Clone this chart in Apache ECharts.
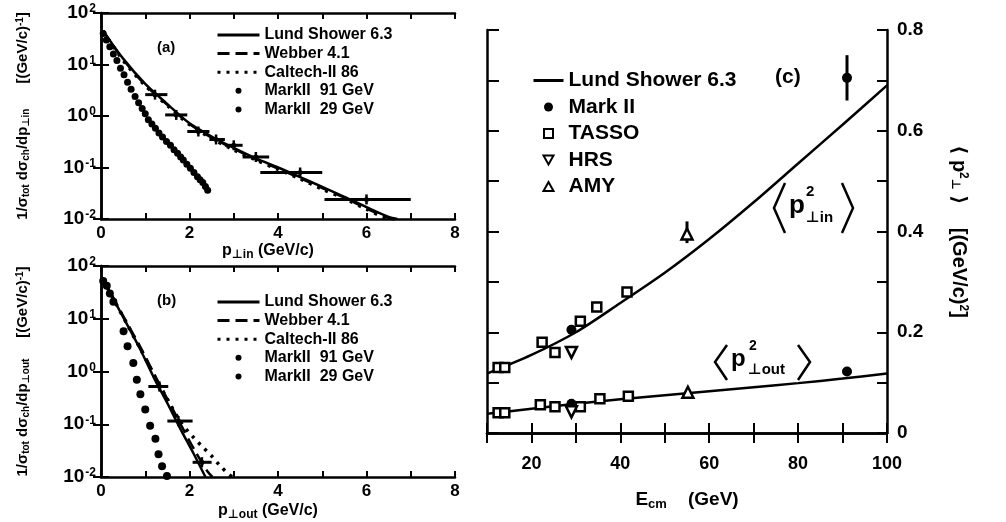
<!DOCTYPE html>
<html><head><meta charset="utf-8">
<script src="https://cdn.jsdelivr.net/npm/echarts@6/dist/echarts.min.js"></script>
<style>html,body{margin:0;padding:0;background:#fff}#c{width:1006px;height:522px}</style>
</head><body><div id="c"></div>
<script>
// ---------- Panel (a): p_perp,in spectra ----------
const aLundX    = [0.05,0.5,1.0,1.5,2.0,2.5,3.0,3.5,4.0,4.5,5.0,5.5,6.0,6.5,6.7];
const aLund     = [45,13,4.2,1.7,0.72,0.40,0.24,0.15,0.10,0.065,0.042,0.027,0.017,0.011,0.010];
const aWebber   = [45,12.5,4.0,1.65,0.70,0.38,0.23,0.145,0.095,0.062,0.040,0.026,0.016,0.0105,0.010];
const aCaltech  = [44,12,3.9,1.6,0.68,0.37,0.22,0.14,0.092,0.060,0.038,0.025,0.0155,0.0102,0.010];
const aM91X     = [1.22,1.7,2.2,2.6,3.0,3.5,4.5,6.0];
const aM91Y     = [2.6,1.05,0.5,0.35,0.27,0.16,0.08,0.024];
const aM91Xlo   = [1.0,1.45,1.95,2.45,2.8,3.2,3.6,5.05];
const aM91Xhi   = [1.5,1.95,2.45,2.8,3.2,3.8,5.0,7.0];
const aM29X     = [0.05,0.12,0.2,0.28,0.36,0.44,0.52,0.6,0.68,0.77,0.85,0.93,1.0,1.07,1.15,1.23,1.31,1.39,1.48,1.57,1.65,1.73,1.8,1.86,1.94,2.02,2.1,2.18,2.24,2.3,2.36,2.41];
const aM29Y     = [40,30,22,16,12,8.5,6.3,4.5,3.3,2.4,1.8,1.4,1.1,0.85,0.7,0.58,0.47,0.39,0.32,0.27,0.22,0.19,0.16,0.14,0.115,0.097,0.08,0.066,0.058,0.051,0.043,0.036];

// ---------- Panel (b): p_perp,out spectra ----------
const bLundX    = [0.05,0.3,0.6,0.9,1.2,1.5,1.8,2.1,2.36];
const bLund     = [55,22,7.5,2.5,0.75,0.25,0.08,0.027,0.010];
const bWebberX  = [0.05,0.3,0.6,0.9,1.2,1.5,1.8,2.1,2.4,2.52];
const bWebber   = [55,23,8,2.8,0.9,0.3,0.1,0.034,0.013,0.010];
const bCaltechX = [0.05,0.3,0.6,0.9,1.2,1.5,1.8,2.1,2.3,2.5,2.7,2.9,2.98];
const bCaltech  = [55,22,7.6,2.6,0.85,0.3,0.11,0.055,0.037,0.025,0.016,0.011,0.010];
const bM91X     = [1.32,1.75,2.28];
const bM91Y     = [0.52,0.115,0.019];
const bM91Xlo   = [1.07,1.5,2.07];
const bM91Xhi   = [1.52,2.07,2.5];
const bM29X     = [0.05,0.13,0.2,0.28,0.51,0.6,0.73,0.81,0.89,1.0,1.11,1.23,1.30,1.38,1.49];
const bM29Y     = [52,42,30,21,5.8,3.0,1.45,0.7,0.37,0.19,0.094,0.053,0.027,0.016,0.0105];

// ---------- Panel (c): <p_perp^2> vs E_cm ----------
const cE        = [10,20,30,40,50,60,70,80,90,100];
const cLundIn   = [0.118,0.155,0.200,0.258,0.318,0.385,0.458,0.535,0.612,0.690];
const cLundOut  = [0.038,0.048,0.058,0.067,0.075,0.083,0.091,0.099,0.108,0.118];
const markIIE   = [29,29,91,91];
const markIIV   = [0.205,0.058,0.705,0.122];
const markIIErr = [[91,0.705,0.66,0.75]];
const tassoE    = [12.5,14,22.4,25.3,31,34.7,41.5,12.5,14,22,25.3,31,35.4,41.8];
const tassoV    = [0.13,0.13,0.18,0.16,0.222,0.25,0.28,0.04,0.04,0.056,0.052,0.052,0.068,0.073];
const hrsE      = [29,29];
const hrsV      = [0.16,0.042];
const amyE      = [55,55.2];
const amyV      = [0.395,0.081];
const amyErr    = [[55,0.395,0.377,0.42]];

const FONT = 'Liberation Sans, DejaVu Sans, sans-serif';
const zip = (xs, ys) => xs.map((x, i) => [x, ys[i]]);
const chart = echarts.init(document.getElementById('c'));

function hErrRender(params, api) {
  const x = api.value(0), y = api.value(1), xl = api.value(2), xh = api.value(3);
  const pl = api.coord([xl, y]), ph = api.coord([xh, y]);
  const pb = api.coord([x, y * 0.8]), pt = api.coord([x, y * 1.25]);
  return {type: 'group', children: [
    {type: 'line', shape: {x1: pl[0], y1: pl[1], x2: ph[0], y2: ph[1]}, style: {stroke: '#000', lineWidth: 3}},
    {type: 'line', shape: {x1: pb[0], y1: pb[1], x2: pt[0], y2: pt[1]}, style: {stroke: '#000', lineWidth: 2.5}}
  ]};
}
function vErrRender(params, api) {
  const x = api.value(0), yl = api.value(2), yh = api.value(3);
  const pb = api.coord([x, yl]), pt = api.coord([x, yh]);
  return {type: 'line', shape: {x1: pb[0], y1: pb[1], x2: pt[0], y2: pt[1]}, style: {stroke: '#000', lineWidth: 3}};
}

const lineW = 2.5;
const axLine = {lineStyle: {color: '#000', width: 2.5}};
const tick = (len) => ({inside: true, length: len, lineStyle: {color: '#000', width: 2}});
const logRich = {
  b: {fontSize: 19, fontWeight: 'bold', fontFamily: FONT, color: '#000', lineHeight: 20},
  s: {fontSize: 12, fontWeight: 'bold', fontFamily: FONT, color: '#000', verticalAlign: 'top', lineHeight: 20, padding: [0, 0, 8, 1]}
};
function logFmt(v) { const e = Math.round(Math.log10(v)); return '{b|10}{s|' + (e < 0 ? '-' + (-e) : e) + '}'; }
const nameRich = {
  t: {fontSize: 15, fontWeight: 'bold', fontFamily: FONT, color: '#000'},
  s: {fontSize: 10, fontWeight: 'bold', fontFamily: FONT, color: '#000', verticalAlign: 'bottom', padding: [6, 0, 0, 0]},
  u: {fontSize: 10, fontWeight: 'bold', fontFamily: FONT, color: '#000', verticalAlign: 'top', padding: [0, 0, 6, 0]}
};
const xNameRich = {
  t: {fontSize: 16, fontWeight: 'bold', fontFamily: FONT, color: '#000'},
  s: {fontSize: 12, fontWeight: 'bold', fontFamily: FONT, color: '#000', verticalAlign: 'bottom', padding: [8, 0, 0, 0]}
};

function xAxisPair(gi, nameStr, gap) {
  return [
    {gridIndex: gi, type: 'value', min: 0, max: 8, interval: 1, position: 'bottom',
     axisLine: axLine, axisTick: tick(6), splitLine: {show: false},
     axisLabel: {margin: 6, fontSize: 17, fontWeight: 'bold', fontFamily: FONT, color: '#000',
       formatter: v => (v % 2 === 0 ? String(v) : '')},
     name: nameStr, nameLocation: 'middle', nameGap: gap, nameTextStyle: {rich: xNameRich, padding: [0, 0, 0, -20]}},
    {gridIndex: gi, type: 'value', min: 0, max: 8, interval: 1, position: 'top',
     axisLine: axLine, axisTick: tick(6), axisLabel: {show: false}, splitLine: {show: false}}
  ];
}
function yAxisPair(gi, nameStr) {
  return [
    {gridIndex: gi, type: 'log', logBase: 10, min: 0.01, max: 100, position: 'left',
     axisLine: axLine, axisTick: tick(8), splitLine: {show: false}, minorTick: {show: false},
     axisLabel: {margin: 5, formatter: logFmt, rich: logRich},
     name: nameStr, nameLocation: 'middle', nameRotate: 90, nameGap: 70, nameTextStyle: {rich: nameRich}},
    {gridIndex: gi, type: 'log', logBase: 10, min: 0.01, max: 100, position: 'right',
     axisLine: axLine, axisTick: tick(8), axisLabel: {show: false}, splitLine: {show: false}}
  ];
}

const xAxes = [
  ...xAxisPair(0, '{t|p}{s|⊥in}{t| (GeV/c)}', 20),
  ...xAxisPair(1, '{t|p}{s|⊥out}{t| (GeV/c)}', 24),
  {gridIndex: 2, type: 'value', min: 10, max: 100, interval: 10, position: 'bottom',
   axisLine: axLine, axisTick: tick(10), splitLine: {show: false},
   axisLabel: {margin: 22, fontSize: 18, fontWeight: 'bold', fontFamily: FONT, color: '#000',
     formatter: v => (v % 20 === 0 ? String(v) : '')},
   name: '{t|E}{s|cm}{t|    (GeV)}', nameLocation: 'middle', nameGap: 56,
   nameTextStyle: {rich: {
     t: {fontSize: 19, fontWeight: 'bold', fontFamily: FONT, color: '#000'},
     s: {fontSize: 13, fontWeight: 'bold', fontFamily: FONT, color: '#000', verticalAlign: 'bottom', padding: [9, 0, 0, 0]}}}},
  {gridIndex: 2, type: 'value', min: 10, max: 100, interval: 10, position: 'top',
   axisLine: axLine, axisTick: tick(10), axisLabel: {show: false}, splitLine: {show: false}}
];
const yAxes = [
  ...yAxisPair(0, '{t|1/σ}{s|tot}{t| dσ}{s|ch}{t|/dp}{s|⊥in}{t|      [(GeV/c)}{u|-1}{t|]}'),
  ...yAxisPair(1, '{t|1/σ}{s|tot}{t| dσ}{s|ch}{t|/dp}{s|⊥out}{t|     [(GeV/c)}{u|-1}{t|]}'),
  {gridIndex: 2, type: 'value', min: 0, max: 0.8, interval: 0.1, position: 'right',
   axisLine: axLine, axisTick: tick(10), splitLine: {show: false},
   axisLabel: {margin: 10, fontSize: 19, fontWeight: 'bold', fontFamily: FONT, color: '#000',
     formatter: v => { const k = Math.round(v * 10); return k % 2 === 0 ? (k === 0 ? '0' : (k / 10).toFixed(1)) : ''; }},
   name: '{a|⟨ p}{u|2}{s|⊥}{a| ⟩}       {a|[(GeV/c)}{u|2}{a|]}', nameLocation: 'middle', nameRotate: -90, nameGap: 62,
   nameTextStyle: {rich: {
     a: {fontSize: 20, fontWeight: 'bold', fontFamily: FONT, color: '#000'},
     u: {fontSize: 12, fontWeight: 'bold', fontFamily: FONT, color: '#000', verticalAlign: 'top', padding: [0, 0, 8, 0]},
     s: {fontSize: 12, fontWeight: 'bold', fontFamily: FONT, color: '#000', verticalAlign: 'bottom', padding: [8, 0, 0, 0]}}}},
  {gridIndex: 2, type: 'value', min: 0, max: 0.8, interval: 0.1, position: 'left',
   axisLine: axLine, axisTick: tick(12), axisLabel: {show: false}, splitLine: {show: false}}
];

function lineSeries(name, xi, yi, xs, ys, type) {
  return {name, type: 'line', xAxisIndex: xi, yAxisIndex: yi, data: zip(xs, ys), smooth: 0.3,
    symbol: 'none', lineStyle: {color: '#000', width: type === 'dotted' ? 3.5 : lineW,
      type: type === 'dashed' ? [12, 6] : type === 'dotted' ? [3, 6] : 'solid'},
    itemStyle: {color: '#000'}, z: 2, animation: false};
}
function dots(name, xi, yi, xs, ys, size) {
  return {name, type: 'scatter', xAxisIndex: xi, yAxisIndex: yi, data: zip(xs, ys), symbol: 'circle',
    symbolSize: size, itemStyle: {color: '#000', opacity: 1}, z: 4, animation: false};
}
function hErr(xi, yi, xs, ys, lo, hi) {
  return {type: 'custom', xAxisIndex: xi, yAxisIndex: yi, renderItem: hErrRender,
    data: xs.map((x, i) => [x, ys[i], lo[i], hi[i]]), encode: {x: 0, y: 1}, z: 3, animation: false, silent: true};
}
const openStyle = {color: '#fff', borderColor: '#000', borderWidth: 2.5, opacity: 1};

const series = [
  lineSeries('Lund Shower 6.3', 0, 0, aLundX, aLund, 'solid'),
  lineSeries('Webber 4.1', 0, 0, aLundX, aWebber, 'dashed'),
  lineSeries('Caltech-II 86', 0, 0, aLundX, aCaltech, 'dotted'),
  hErr(0, 0, aM91X, aM91Y, aM91Xlo, aM91Xhi),
  dots('MarkII  91 GeV', 0, 0, aM91X, aM91Y, 5),
  dots('MarkII  29 GeV', 0, 0, aM29X, aM29Y, 7),

  lineSeries('Lund Shower 6.3', 2, 2, bLundX, bLund, 'solid'),
  lineSeries('Webber 4.1', 2, 2, bWebberX, bWebber, 'dashed'),
  lineSeries('Caltech-II 86', 2, 2, bCaltechX, bCaltech, 'dotted'),
  hErr(2, 2, bM91X, bM91Y, bM91Xlo, bM91Xhi),
  dots('MarkII  91 GeV', 2, 2, bM91X, bM91Y, 5),
  dots('MarkII  29 GeV', 2, 2, bM29X, bM29Y, 8),

  lineSeries('Lund Shower 6.3 ', 4, 4, cE, cLundIn, 'solid'),
  lineSeries('Lund Shower 6.3 ', 4, 4, cE, cLundOut, 'solid'),
  {type: 'custom', xAxisIndex: 4, yAxisIndex: 4, renderItem: vErrRender, data: markIIErr.concat(amyErr),
   encode: {x: 0, y: 1}, z: 3, animation: false, silent: true},
  {name: 'Mark II', type: 'scatter', xAxisIndex: 4, yAxisIndex: 4, data: zip(markIIE, markIIV), symbol: 'circle',
   symbolSize: 10, itemStyle: {color: '#000', opacity: 1}, z: 5, animation: false},
  {name: 'TASSO', type: 'scatter', xAxisIndex: 4, yAxisIndex: 4, data: zip(tassoE, tassoV), symbol: 'rect',
   symbolSize: 9, itemStyle: openStyle, z: 5, animation: false},
  {name: 'HRS', type: 'scatter', xAxisIndex: 4, yAxisIndex: 4, data: zip(hrsE, hrsV), symbol: 'triangle',
   symbolRotate: 180, symbolSize: 11, itemStyle: openStyle, z: 5, animation: false},
  {name: 'AMY', type: 'scatter', xAxisIndex: 4, yAxisIndex: 4, data: zip(amyE, amyV), symbol: 'triangle',
   symbolSize: 11, itemStyle: openStyle, z: 5, animation: false}
];

const legTxt = (fs) => ({fontSize: fs, fontWeight: 'bold', fontFamily: FONT, color: '#000'});
const hideSym = {opacity: 0};
const legAB = [
  {name: 'Lund Shower 6.3', itemStyle: hideSym},
  {name: 'Webber 4.1', itemStyle: hideSym},
  {name: 'Caltech-II 86', itemStyle: hideSym},
  {name: 'MarkII  91 GeV', icon: 'circle'},
  {name: 'MarkII  29 GeV', icon: 'circle'}
];
const legC = [
  {name: 'Lund Shower 6.3 ', itemStyle: hideSym},
  {name: 'Mark II', icon: 'circle'},
  {name: 'TASSO', icon: 'path://M0,0H10V10H0Z'},
  {name: 'HRS', icon: 'path://M0,0H10L5,9Z'},
  {name: 'AMY', icon: 'path://M5,0L10,9H0Z'}
];

chart.setOption({
  animation: false,
  grid: [
    {left: 101, top: 13, width: 354, height: 206},
    {left: 101, top: 266, width: 354, height: 212},
    {left: 487, top: 30, width: 400, height: 403}
  ],
  xAxis: xAxes,
  yAxis: yAxes,
  legend: [
    {data: legAB, orient: 'vertical', left: 211, top: 22, itemWidth: 42, itemHeight: 6, itemGap: 2.6,
     textStyle: legTxt(16), selectedMode: false, symbolRotate: 0, lineStyle: {width: 3}},
    {data: legAB, orient: 'vertical', left: 211, top: 289, itemWidth: 42, itemHeight: 6, itemGap: 2.6,
     textStyle: legTxt(16), selectedMode: false, symbolRotate: 0, lineStyle: {width: 3}},
    {data: legC, orient: 'vertical', left: 527, top: 65, itemWidth: 30, itemHeight: 9, itemGap: 5.5,
     textStyle: legTxt(21), selectedMode: false, symbolRotate: 0, lineStyle: {width: 3}}
  ],
  graphic: [
    {type: 'text', left: 157, top: 40, style: {text: '(a)', font: 'bold 15px ' + FONT, fill: '#000'}},
    {type: 'text', left: 157, top: 293, style: {text: '(b)', font: 'bold 15px ' + FONT, fill: '#000'}},
    {type: 'text', left: 775, top: 67, style: {text: '(c)', font: 'bold 21px ' + FONT, fill: '#000'}},
    // <p^2 in>
    {type: 'polyline', shape: {points: [[785, 183], [774, 208], [785, 233]]}, style: {stroke: '#000', lineWidth: 2.5, fill: null}},
    {type: 'polyline', shape: {points: [[842, 183], [853, 208], [842, 233]]}, style: {stroke: '#000', lineWidth: 2.5, fill: null}},
    {type: 'text', left: 789, top: 193, style: {text: 'p', font: 'bold 26px ' + FONT, fill: '#000'}},
    {type: 'text', left: 806, top: 184, style: {text: '2', font: 'bold 15px ' + FONT, fill: '#000'}},
    {type: 'text', left: 806, top: 210, style: {text: '⊥in', font: 'bold 15px ' + FONT, fill: '#000'}},
    // <p^2 out>
    {type: 'polyline', shape: {points: [[727, 345], [715, 362], [727, 380]]}, style: {stroke: '#000', lineWidth: 2.5, fill: null}},
    {type: 'polyline', shape: {points: [[798, 345], [810, 362], [798, 380]]}, style: {stroke: '#000', lineWidth: 2.5, fill: null}},
    {type: 'text', left: 731, top: 347, style: {text: 'p', font: 'bold 24px ' + FONT, fill: '#000'}},
    {type: 'text', left: 749, top: 339, style: {text: '2', font: 'bold 14px ' + FONT, fill: '#000'}},
    {type: 'text', left: 748, top: 362, style: {text: '⊥out', font: 'bold 15px ' + FONT, fill: '#000'}}
  ],
  series
});
</script></body></html>
